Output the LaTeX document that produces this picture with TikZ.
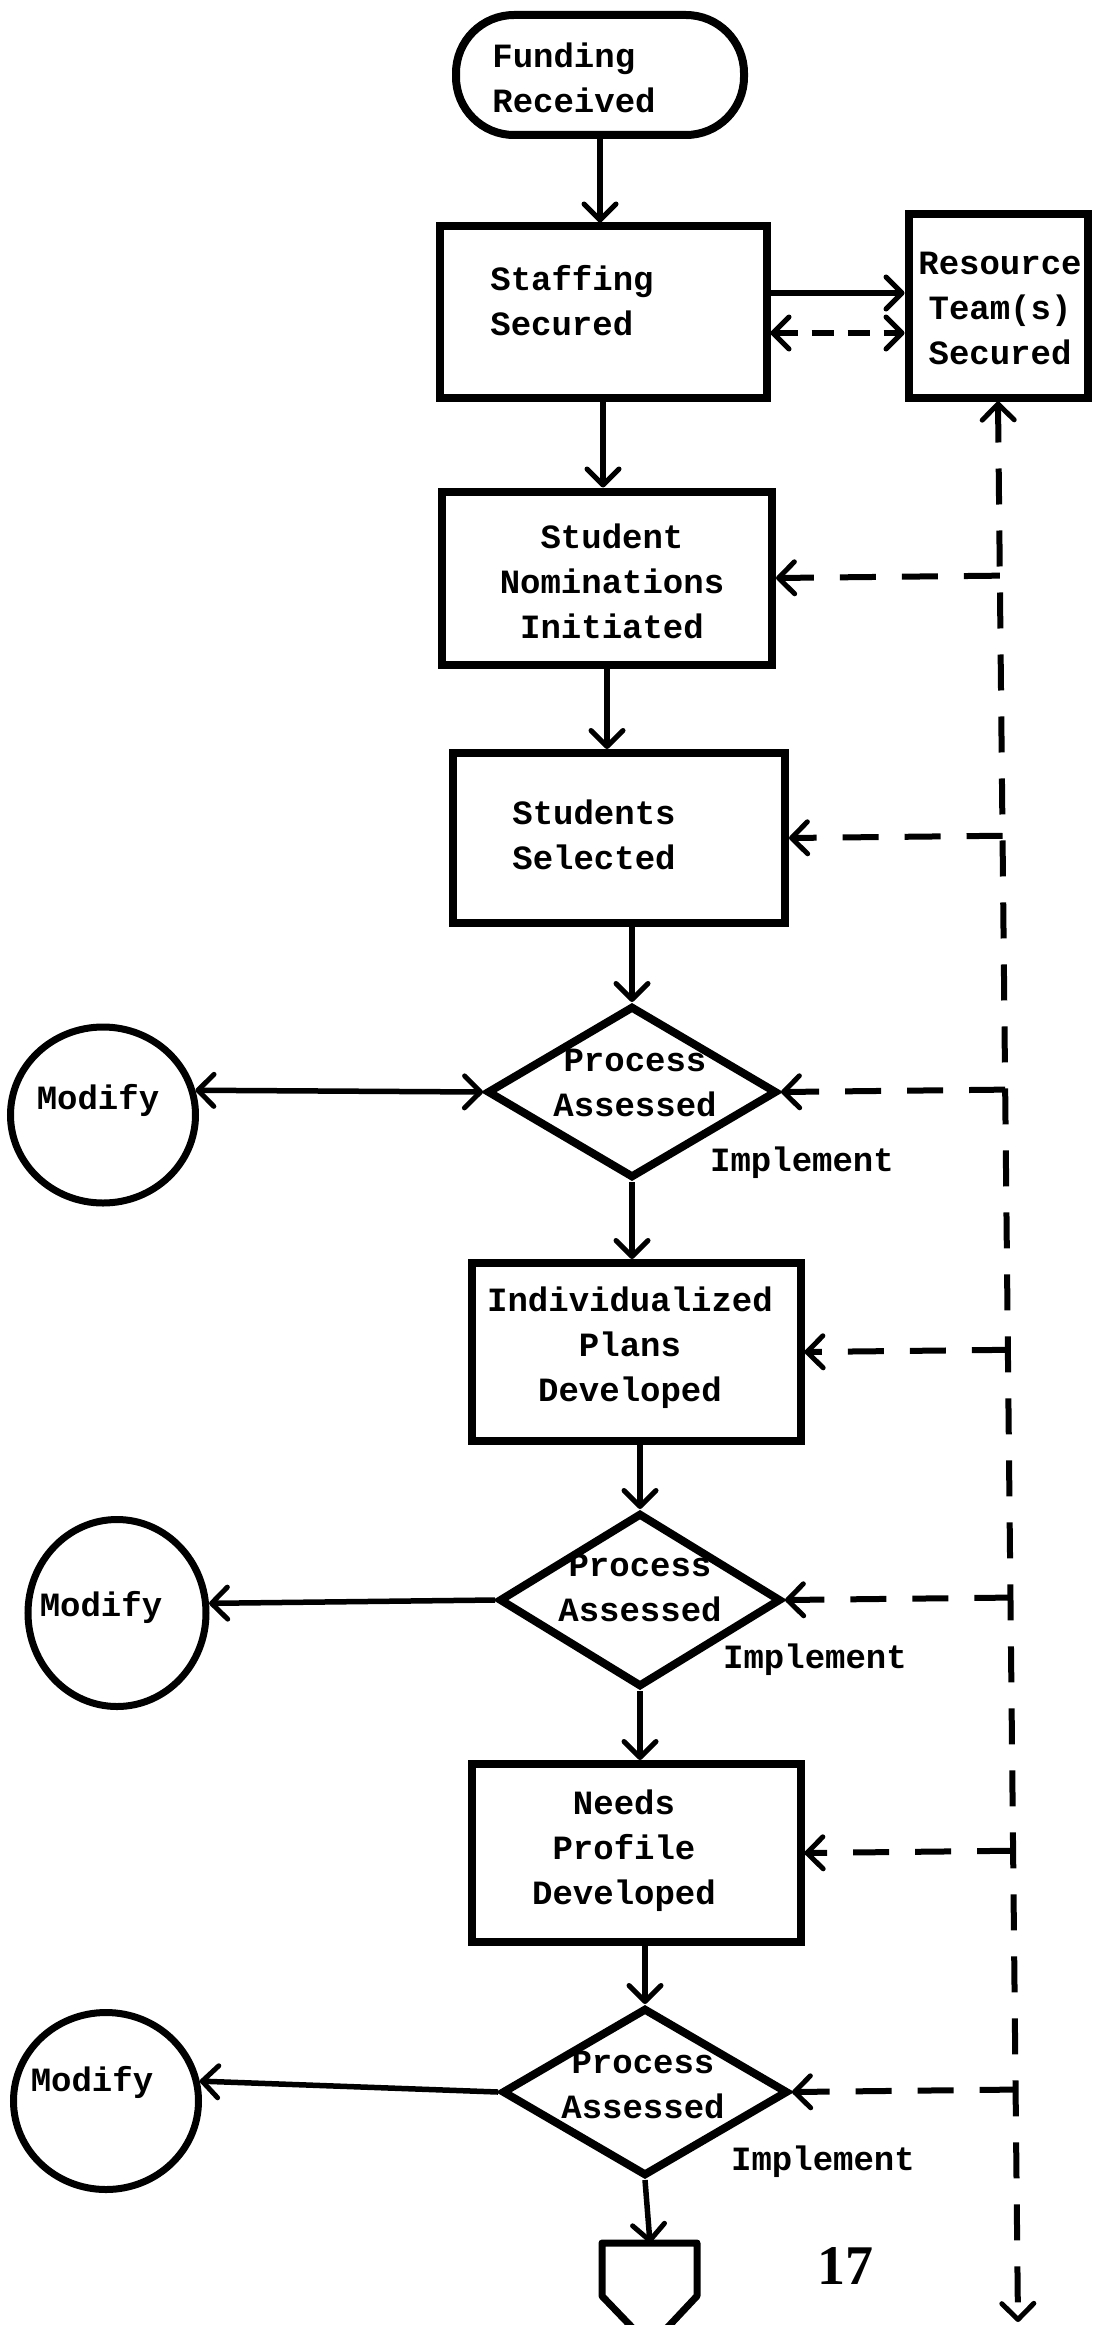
\documentclass[tikz,border=0pt]{standalone}
\usepackage{fontspec}
\newfontfamily\tw{Liberation Mono}
\newfontfamily\pgnum{Liberation Serif}
\usetikzlibrary{arrows.meta,shapes.geometric,calc}
\begin{document}
\begin{tikzpicture}[x=1pt,y=-1pt,
  shp/.style={draw=black, line width=8pt, inner sep=0pt},
  boxn/.style={shp, rectangle},
  stad/.style={shp, rectangle, rounded corners=58pt},
  dia/.style={shp, diamond, line width=8pt},
  circ/.style={shp, ellipse, line width=7pt},
  txt/.style={font=\tw\bfseries\fontsize{34}{45}\selectfont, align=center, inner sep=0pt, text=black},
  arr/.style={line width=5.5pt, -{Straight Barb[length=16pt,width=32pt,line width=5pt,round]}},
  darr/.style={line width=5.5pt, {Straight Barb[length=16pt,width=32pt,line width=5pt,round]}-{Straight Barb[length=16pt,width=32pt,line width=5pt,round]}},
  dsh/.style={line width=6pt, dash pattern=on 36pt off 26pt}
]
\useasboundingbox (0,0) rectangle (1094,2325);
\fill[white] (0,0) rectangle (1094,2325);
\clip (0,0) rectangle (1094,2325);

% shapes
\node[stad, minimum width=288pt, minimum height=120pt] (fund) at (600,75) {};
\node[boxn, minimum width=327pt, minimum height=171pt] (staff) at (603,312) {};
\node[boxn, minimum width=179pt, minimum height=183pt] (res) at (998,306) {};
\node[boxn, minimum width=330pt, minimum height=173pt] (nom) at (607,578) {};
\node[boxn, minimum width=332pt, minimum height=170pt] (sel) at (619,838) {};
\node[dia, minimum width=290pt, minimum height=172pt] (d1) at (632,1092) {};
\node[boxn, minimum width=329pt, minimum height=178pt] (ind) at (636,1352) {};
\node[dia, minimum width=282pt, minimum height=174pt] (d2) at (640,1600) {};
\node[boxn, minimum width=329pt, minimum height=178pt] (need) at (636,1853) {};
\node[dia, minimum width=286pt, minimum height=168pt] (d3) at (645,2092) {};
\node[circ, minimum width=185pt, minimum height=176pt] (mod1) at (103,1115) {};
\node[circ, minimum width=178pt, minimum height=187pt] (mod2) at (117,1613) {};
\node[circ, minimum width=185pt, minimum height=177pt] (mod3) at (106,2101) {};
\coordinate (pentTop) at (650,2243);
\draw[line width=7pt, line join=round] (602,2243) -- (697,2243) -- (697,2296) -- (650,2346) -- (602,2296) -- cycle;

% texts
\node[txt, align=left] (fundT) at (574,78) {Funding\\Received};
\node[txt, align=left] (staffT) at (572,301) {Staffing\\Secured};
\node[txt] (resT) at (1000,308) {Resource\\Team(s)\\Secured};
\node[txt] (nomT) at (612,581) {Student\\Nominations\\Initiated};
\node[txt] (selT) at (594,835) {Students\\Selected};
\node[txt] (d1T) at (635,1083) {Process\\Assessed};
\node[txt] (indT) at (630,1348) {Individualized\\Plans\\Developed};
\node[txt] (d2T) at (640,1588) {Process\\Assessed};
\node[txt] (needT) at (624,1851) {Needs\\Profile\\Developed};
\node[txt] (d3T) at (643,2085) {Process\\Assessed};
\node[txt] (imp1) at (802,1163) {Implement};
\node[txt] (imp2) at (815,1660) {Implement};
\node[txt] (imp3) at (823,2162) {Implement};
\node[txt] (m1T) at (98,1100) {Modify};
\node[txt] (m2T) at (101,1607) {Modify};
\node[txt] (m3T) at (92,2082) {Modify};
\node[font=\pgnum\bfseries\fontsize{56}{60}\selectfont, inner sep=0pt] (pg) at (845,2266) {17};

% main flow
\draw[arr] (fund.south) -- (fund.south |- staff.north);
\draw[arr] (staff.south) -- (staff.south |- nom.north);
\draw[arr] (nom.south) -- (nom.south |- sel.north);
\draw[arr] (d1.north |- sel.south) -- (d1.north);
\draw[arr] (d1.south) -- (d1.south |- ind.north);
\draw[arr] (d2.north |- ind.south) -- (d2.north);
\draw[arr] (d2.south) -- (d2.south |- need.north);
\draw[arr] (d3.north |- need.south) -- (d3.north);
\draw[arr] (d3.south) -- (pentTop);

% staffing <-> resource
\draw[arr] ([yshift=19pt]staff.east) -- ([yshift=19pt]staff.east -| res.west);
\draw[darr, dsh, dash pattern=on 22pt off 14pt] ([yshift=-21pt]staff.east) -- ([yshift=-21pt]staff.east -| res.west);

% modify branches
\draw[darr] (d1.west) -- (mod1.15);
\draw[arr] (d2.west) -- (mod2.6);
\draw[arr] (d3.west) -- (mod3.12);

% vertical dashed feedback line
\coordinate (vTop) at (res.south);
\coordinate (vBot) at (1018,2322);
\draw[darr, dsh] (vTop) -- (vBot);
\draw[arr, dsh] ($(vTop)!(nom.east)!(vBot)$) -- (nom.east);
\draw[arr, dsh] ($(vTop)!(sel.east)!(vBot)$) -- (sel.east);
\draw[arr, dsh] ($(vTop)!(d1.east)!(vBot)$) -- (d1.east);
\draw[arr, dsh] ($(vTop)!(ind.east)!(vBot)$) -- (ind.east);
\draw[arr, dsh] ($(vTop)!(d2.east)!(vBot)$) -- (d2.east);
\draw[arr, dsh] ($(vTop)!(need.east)!(vBot)$) -- (need.east);
\draw[arr, dsh] ($(vTop)!(d3.east)!(vBot)$) -- (d3.east);
\end{tikzpicture}
\end{document}
